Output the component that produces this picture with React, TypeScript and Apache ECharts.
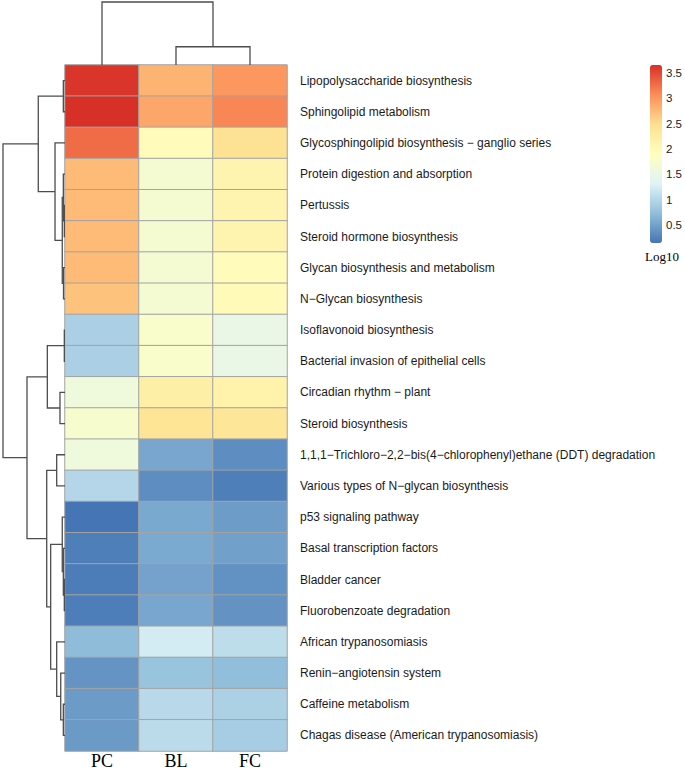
import React, { useEffect, useRef } from 'react';
import * as echarts from 'echarts';

const columns = ['PC', 'BL', 'FC'];
const pathways = [
  'Lipopolysaccharide biosynthesis',
  'Sphingolipid metabolism',
  'Glycosphingolipid biosynthesis \u2212 ganglio series',
  'Protein digestion and absorption',
  'Pertussis',
  'Steroid hormone biosynthesis',
  'Glycan biosynthesis and metabolism',
  'N\u2212Glycan biosynthesis',
  'Isoflavonoid biosynthesis',
  'Bacterial invasion of epithelial cells',
  'Circadian rhythm \u2212 plant',
  'Steroid biosynthesis',
  '1,1,1\u2212Trichloro\u22122,2\u2212bis(4\u2212chlorophenyl)ethane (DDT) degradation',
  'Various types of N\u2212glycan biosynthesis',
  'p53 signaling pathway',
  'Basal transcription factors',
  'Bladder cancer',
  'Fluorobenzoate degradation',
  'African trypanosomiasis',
  'Renin\u2212angiotensin system',
  'Caffeine metabolism',
  'Chagas disease (American trypanosomiasis)',
];
const pcValues = [3.63, 3.66, 3.28, 2.75, 2.75, 2.75, 2.75, 2.7, 0.92, 0.92, 1.6, 1.75, 1.6, 0.99, 0.14, 0.22, 0.2, 0.21, 0.7, 0.38, 0.44, 0.43];
const blValues = [2.8, 2.9, 1.95, 1.72, 1.72, 1.72, 1.7, 1.7, 1.78, 1.78, 2.2, 2.42, 0.53, 0.33, 0.55, 0.56, 0.5, 0.53, 1.22, 0.78, 1.02, 1.04];
const fcValues = [3.0, 3.12, 2.45, 2.1, 2.1, 2.1, 1.95, 2.0, 1.5, 1.5, 2.15, 2.38, 0.33, 0.22, 0.45, 0.48, 0.36, 0.37, 1.06, 0.72, 0.93, 0.88];

const legendTicks = [0.5, 1, 1.5, 2, 2.5, 3, 3.5];
const scaleMin = 0.14;
const scaleMax = 3.66;
const palette = ['#4575B4', '#91BFDB', '#E0F3F8', '#FFFFBF', '#FEE090', '#FC8D59', '#D73027'];

// hclust-style merges: negative = leaf (1-based), positive = earlier merge (1-based)
const rowMergeLeft = [-5, -4, -7, 2, -3, -1, 6, -9, -11, 8, -13, -17, -16, -15, -21, -20, -19, 14, 11, 10, 7];
const rowMergeRight = [-6, 1, -8, 3, 4, -2, 5, -10, -12, 9, -14, -18, 12, 13, -22, 15, 16, 17, 18, 19, 20];
const rowMergeHeight = [0.11, 0.27, 0.24, 0.44, 1.61, 0.27, 4.31, 0.11, 0.81, 2.85, 1.34, 0.11, 0.27, 0.44, 0.27, 0.69, 1.34, 2.31, 2.95, 6.13, 10];

const colMergeLeft = [-2, -1];
const colMergeRight = [-3, 1];
const colMergeHeight = [2.9, 10];

function dendroSegments(left: number[], right: number[], height: number[]) {
  const pos: number[] = [];
  const hs: number[] = [];
  const out: number[][] = [];
  const get = (m: number) => (m < 0 ? { p: -m - 1 + 0.5, h: 0 } : { p: pos[m - 1], h: hs[m - 1] });
  for (let k = 0; k < left.length; k++) {
    const a = get(left[k]);
    const b = get(right[k]);
    pos.push((a.p + b.p) / 2);
    hs.push(height[k]);
    out.push([a.p, b.p, height[k], a.h, b.h]);
  }
  return out;
}

const LINE = '#4d4d4d';

export default function App() {
  const ref = useRef<HTMLDivElement>(null);
  useEffect(() => {
    if (!ref.current) return;
    const chart = echarts.init(ref.current, undefined, { renderer: 'svg' });
    const heatData: number[][] = [];
    const cols = [pcValues, blValues, fcValues];
    cols.forEach((arr, ci) => arr.forEach((v, ri) => heatData.push([ci, ri, v])));
    const rowSegs = dendroSegments(rowMergeLeft, rowMergeRight, rowMergeHeight);
    const colSegs = dendroSegments(colMergeLeft, colMergeRight, colMergeHeight);

    chart.setOption({
      animation: false,
      backgroundColor: '#ffffff',
      grid: [
        { left: 65, top: 65, width: 222, height: 686 },
        { left: 3, top: 65, width: 62, height: 686 },
        { left: 65, top: 2, width: 222, height: 63 },
        { left: 650, top: 65, width: 12, height: 178 },
      ],
      xAxis: [
        {
          type: 'category', gridIndex: 0, data: columns, position: 'bottom',
          axisLine: { show: false }, axisTick: { show: false }, splitLine: { show: false },
          axisLabel: { fontFamily: 'Liberation Serif, Times New Roman, serif', fontSize: 18, color: '#000', margin: 1 },
        },
        { type: 'value', gridIndex: 1, min: 0, max: 10, inverse: true, show: false },
        { type: 'value', gridIndex: 2, min: 0, max: 3, show: false },
        { type: 'value', gridIndex: 3, min: 0, max: 1, show: false },
      ],
      yAxis: [
        {
          type: 'category', gridIndex: 0, data: pathways, inverse: true, position: 'right',
          axisLine: { show: false }, axisTick: { show: false }, splitLine: { show: false },
          axisLabel: { fontFamily: 'Liberation Sans, Arial, sans-serif', fontSize: 12, color: '#1a1a1a', margin: 13, align: 'left' },
        },
        { type: 'value', gridIndex: 1, min: 0, max: 22, inverse: true, show: false },
        { type: 'value', gridIndex: 2, min: 0, max: 10, show: false },
        {
          type: 'value', gridIndex: 3, min: scaleMin, max: scaleMax, position: 'right',
          axisLine: { show: false }, axisTick: { show: false }, splitLine: { show: false },
          axisLabel: {
            customValues: legendTicks, margin: 4, fontSize: 11.5,
            fontFamily: 'Liberation Sans, Arial, sans-serif', color: '#1a1a1a',
            formatter: (v: number) => String(v),
          },
        },
      ],
      visualMap: {
        type: 'continuous', seriesIndex: 0, min: scaleMin, max: scaleMax,
        inRange: { color: palette }, orient: 'vertical', left: 650, top: 65,
        itemWidth: 12, itemHeight: 178, padding: 0, calculable: false, hoverLink: false,
      },
      graphic: [
        {
          type: 'text', left: 645, top: 250,
          style: { text: 'Log10', fontFamily: 'Liberation Serif, Times New Roman, serif', fontSize: 13, fill: '#000' },
        },
      ],
      series: [
        {
          type: 'heatmap', xAxisIndex: 0, yAxisIndex: 0, data: heatData,
          itemStyle: { borderColor: '#a3a3a3', borderWidth: 1 },
          emphasis: { disabled: true },
        },
        {
          type: 'custom', xAxisIndex: 1, yAxisIndex: 1, data: rowSegs, silent: true,
          renderItem: (_p: any, api: any) => {
            const pa = api.value(0), pb = api.value(1), h = api.value(2), ha = api.value(3), hb = api.value(4);
            const pts = [api.coord([ha, pa]), api.coord([h, pa]), api.coord([h, pb]), api.coord([hb, pb])];
            return { type: 'polyline', shape: { points: pts }, style: { stroke: LINE, lineWidth: 1.3, fill: 'none' } };
          },
        },
        {
          type: 'custom', xAxisIndex: 2, yAxisIndex: 2, data: colSegs, silent: true,
          renderItem: (_p: any, api: any) => {
            const pa = api.value(0), pb = api.value(1), h = api.value(2), ha = api.value(3), hb = api.value(4);
            const pts = [api.coord([pa, ha]), api.coord([pa, h]), api.coord([pb, h]), api.coord([pb, hb])];
            return { type: 'polyline', shape: { points: pts }, style: { stroke: LINE, lineWidth: 1.3, fill: 'none' } };
          },
        },
        { type: 'line', xAxisIndex: 3, yAxisIndex: 3, data: [], silent: true },
      ],
    });
    return () => chart.dispose();
  }, []);
  return <div ref={ref} style={{ position: 'fixed', left: 0, top: 0, width: 685, height: 771, background: '#fff' }} />;
}
